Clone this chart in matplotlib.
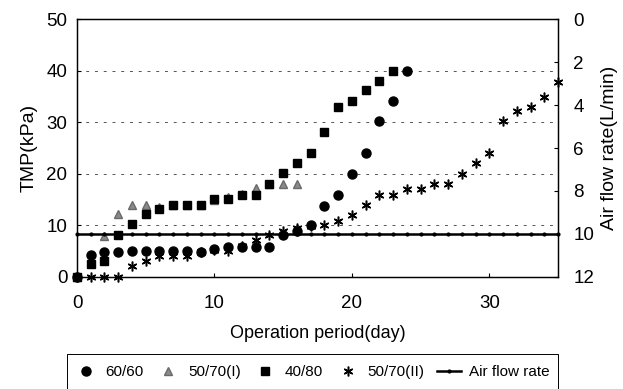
import matplotlib
matplotlib.use('Agg')
import matplotlib.pyplot as plt
from matplotlib.patches import Rectangle

plt.rcParams['font.family'] = ['Liberation Sans', 'DejaVu Sans']

# TMP (kPa) per day for each condition
days_6060 = list(range(0, 25))
tmp_6060 = [0, 4.3, 4.9, 4.9, 5.1, 5.0, 5.0, 5.0, 5.0, 4.9, 5.5, 5.9, 5.9, 5.9, 5.9,
            8.1, 8.9, 10.0, 13.8, 15.9, 20.0, 24.0, 30.2, 34.2, 40.0]

days_5070a = list(range(0, 17))
tmp_5070a = [0, 3.0, 8.0, 12.3, 14.0, 14.0, 13.5, 14.0, 14.0, 14.0, 15.0, 15.5, 16.0,
             17.2, 18.0, 18.0, 18.0]

days_4080 = list(range(0, 24))
tmp_4080 = [0, 2.5, 3.0, 8.1, 10.3, 12.3, 13.2, 14.0, 14.0, 14.0, 15.1, 15.1, 15.9,
            15.9, 18.0, 20.1, 22.0, 24.0, 28.2, 33.0, 34.2, 36.2, 37.9, 40.0]

days_5070b = list(range(0, 36))
tmp_5070b = [0, 0, 0, 0, 2.2, 3.0, 4.0, 4.0, 4.0, 4.9, 5.3, 5.0, 6.0, 7.1, 8.1, 9.0,
             9.5, 9.8, 10.0, 10.9, 12.0, 14.0, 15.8, 15.8, 17.1, 17.1, 18.0, 18.0,
             20.0, 22.1, 24.0, 30.2, 32.1, 33.0, 34.9, 37.8]

days_air = list(range(0, 36))
air_flow = [10] * 36

fig = plt.figure(figsize=(6.23, 3.89), dpi=100)
ax = fig.add_axes([0.1236, 0.288, 0.7721, 0.663])
ax2 = ax.twinx()

ax.plot(days_5070a, tmp_5070a, ls='none', marker='^', ms=6, color='#8a8a8a',
        mec='#6a6a6a', label='50/70(I)', clip_on=False, zorder=3)
ax.plot(days_4080, tmp_4080, ls='none', marker='s', ms=6, color='black',
        label='40/80', clip_on=False, zorder=4)
ax.plot(days_6060, tmp_6060, ls='none', marker='o', ms=6.5, color='black',
        label='60/60', clip_on=False, zorder=5)
ax.plot(days_5070b, tmp_5070b, ls='none', marker=(6, 2, 0), ms=7, mew=1.1,
        color='black', label='50/70(II)', clip_on=False, zorder=6)
ax2.plot(days_air, air_flow, color='black', lw=1.8, marker='o', ms=2,
         label='Air flow rate', clip_on=False)

ax.set_xlim(0, 35)
ax.set_ylim(0, 50)
ax.set_xticks([0, 10, 20, 30])
ax.set_yticks([0, 10, 20, 30, 40, 50])
ax2.set_ylim(12, 0)
ax2.set_yticks([0, 2, 4, 6, 8, 10, 12])

for y in [10, 20, 30, 40]:
    ax.axhline(y, color='#555555', lw=0.7, ls=(0, (3, 6)), zorder=1)

ax.tick_params(axis='x', direction='in', length=3, labelsize=13.5, pad=13)
ax.tick_params(axis='y', direction='in', length=3, labelsize=13.5, pad=7)
ax2.tick_params(axis='y', direction='in', length=3, labelsize=13.5, pad=11)
for a in (ax, ax2):
    for s in a.spines.values():
        s.set_linewidth(0.9)

ax.set_xlabel('Operation period(day)', fontsize=13, labelpad=9)
ax.set_ylabel('TMP(kPa)', fontsize=14, labelpad=6)
ax2.set_ylabel('Air flow rate(L/min)', fontsize=14, labelpad=5)

# legend box runs off the bottom edge as in the original
fig.patches.append(Rectangle((0.107, -0.05), 0.789, 0.14, transform=fig.transFigure,
                             fill=False, edgecolor='black', lw=0.7))
h1, l1 = ax.get_legend_handles_labels()
h2, l2 = ax2.get_legend_handles_labels()
order = [2, 0, 1, 3]
handles = [h1[i] for i in order] + h2
labels = [l1[i] for i in order] + l2
fig.legend(handles, labels, loc='center', bbox_to_anchor=(0.5, 0.044), ncol=5,
           frameon=False, fontsize=11, handlelength=1.6, handletextpad=0.5,
           columnspacing=0.8, borderpad=0, borderaxespad=0)

fig.savefig('out.png', dpi=100)
